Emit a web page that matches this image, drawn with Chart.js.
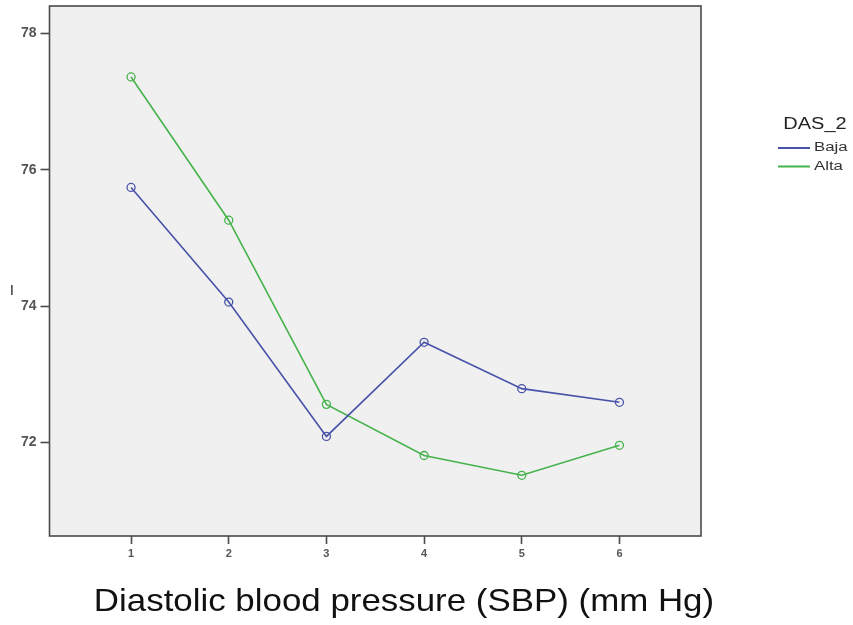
<!DOCTYPE html>
<html lang="en">
<head>
    <meta charset="UTF-8">
    <title>DAS_2 by Diastolic blood pressure</title>
    <style>
body {
    margin: 0;
    padding: 0;
    background-color: #fff;
}

#chart-container {
    width: 853px;
    height: 625px;
}
    </style>
</head>
<body>
    <div id="chart-container">
        <canvas id="dasChart" width="853" height="625"></canvas>
    </div>

    <script src="https://cdn.jsdelivr.net/npm/chart.js"></script>
    <script>
        // Data
        const categories = [1, 2, 3, 4, 5, 6];
        const bajaValues = [75.74, 74.06, 72.09, 73.47, 72.79, 72.59];
        const altaValues = [77.36, 75.26, 72.56, 71.81, 71.52, 71.96];
        const yTicks = [72, 74, 76, 78];
        const legendTitle = 'DAS_2';
        const xTitle = 'Diastolic blood pressure (SBP) (mm Hg)';

        const blue = '#4852a8';
        const green = '#46b24b';
        const fontFamily = '"Liberation Sans", Arial, sans-serif';

        function toPoints(values) {
            return categories.map((c, i) => ({ x: c, y: values[i] }));
        }

        // the reference image is slightly stretched sideways, so text is too
        function drawStretched(ctx, text, x, y, font, sx, align) {
            ctx.save();
            ctx.translate(x, y);
            ctx.scale(sx, 1);
            ctx.font = font;
            ctx.textAlign = align;
            ctx.fillText(text, 0, 0);
            ctx.restore();
        }

        // Plot background, frame, legend and axis title
        const decorPlugin = {
            id: 'decor',
            beforeDraw(chart) {
                const { ctx, chartArea: a } = chart;
                ctx.save();
                ctx.fillStyle = '#f0f0f0';
                ctx.fillRect(a.left, a.top, a.right - a.left, a.bottom - a.top);
                ctx.restore();
            },
            afterDraw(chart) {
                const { ctx, chartArea: a } = chart;
                ctx.save();
                ctx.strokeStyle = '#4a4a4a';
                ctx.lineWidth = 1.6;
                ctx.strokeRect(a.left, a.top, a.right - a.left, a.bottom - a.top);

                // legend
                ctx.textBaseline = 'middle';
                ctx.fillStyle = '#222';
                drawStretched(ctx, legendTitle, 815, 125, '16px ' + fontFamily, 1.25, 'center');
                chart.data.datasets.forEach((ds, i) => {
                    const y = 148 + i * 18.5;
                    ctx.strokeStyle = ds.borderColor;
                    ctx.lineWidth = 2;
                    ctx.beginPath();
                    ctx.moveTo(778, y);
                    ctx.lineTo(810, y);
                    ctx.stroke();
                    ctx.fillStyle = '#333';
                    drawStretched(ctx, ds.label, 814, y, '12px ' + fontFamily, 1.4, 'left');
                });

                // x axis title
                ctx.fillStyle = '#111';
                ctx.textBaseline = 'alphabetic';
                drawStretched(ctx, xTitle, 404, 611, '32px ' + fontFamily, 1.09, 'center');

                // clipped y axis title remnant
                ctx.fillStyle = '#222';
                ctx.font = 'bold 10px ' + fontFamily;
                ctx.textAlign = 'center';
                ctx.fillText('|', 12, 293);
                ctx.restore();
            }
        };

        const ctx = document.getElementById('dasChart').getContext('2d');
        const chart = new Chart(ctx, {
            type: 'line',
            data: {
                datasets: [
                    {
                        label: 'Baja',
                        data: toPoints(bajaValues),
                        borderColor: blue,
                        backgroundColor: 'rgba(0,0,0,0)',
                        borderWidth: 1.6,
                        pointRadius: 4,
                        pointBorderWidth: 1.3,
                        pointBackgroundColor: 'rgba(0,0,0,0)',
                        pointBorderColor: blue,
                        tension: 0
                    },
                    {
                        label: 'Alta',
                        data: toPoints(altaValues),
                        borderColor: green,
                        backgroundColor: 'rgba(0,0,0,0)',
                        borderWidth: 1.6,
                        pointRadius: 4,
                        pointBorderWidth: 1.3,
                        pointBackgroundColor: 'rgba(0,0,0,0)',
                        pointBorderColor: green,
                        tension: 0
                    }
                ]
            },
            options: {
                responsive: false,
                animation: false,
                layout: { padding: { top: 6, right: 152, left: 0, bottom: 0 } },
                plugins: {
                    legend: { display: false },
                    tooltip: { enabled: false }
                },
                scales: {
                    x: {
                        type: 'linear',
                        min: 0.165,
                        max: 6.835,
                        afterBuildTicks: (scale) => {
                            scale.ticks = categories.map(v => ({ value: v }));
                        },
                        afterFit: (scale) => { scale.height = 89; },
                        grid: {
                            drawOnChartArea: false,
                            drawTicks: true,
                            tickLength: 8,
                            tickWidth: 1.6,
                            tickColor: '#4a4a4a'
                        },
                        border: { display: false },
                        ticks: {
                            padding: 3,
                            color: '#555',
                            font: { family: fontFamily, size: 11, weight: 'bold' },
                            callback: (v) => v
                        }
                    },
                    y: {
                        min: 70.63,
                        max: 78.40,
                        afterBuildTicks: (scale) => {
                            scale.ticks = yTicks.map(v => ({ value: v }));
                        },
                        afterFit: (scale) => {
                            scale.width = 49.5;
                            scale.paddingTop = 0;
                            scale.paddingBottom = 0;
                        },
                        grid: {
                            drawOnChartArea: false,
                            drawTicks: true,
                            tickLength: 9,
                            tickWidth: 1.6,
                            tickColor: '#4a4a4a'
                        },
                        border: { display: false },
                        ticks: {
                            padding: 4,
                            color: '#555',
                            font: { family: fontFamily, size: 14, weight: 'bold' },
                            callback: (v) => v
                        }
                    }
                }
            },
            plugins: [decorPlugin]
        });
    </script>
</body>
</html>
